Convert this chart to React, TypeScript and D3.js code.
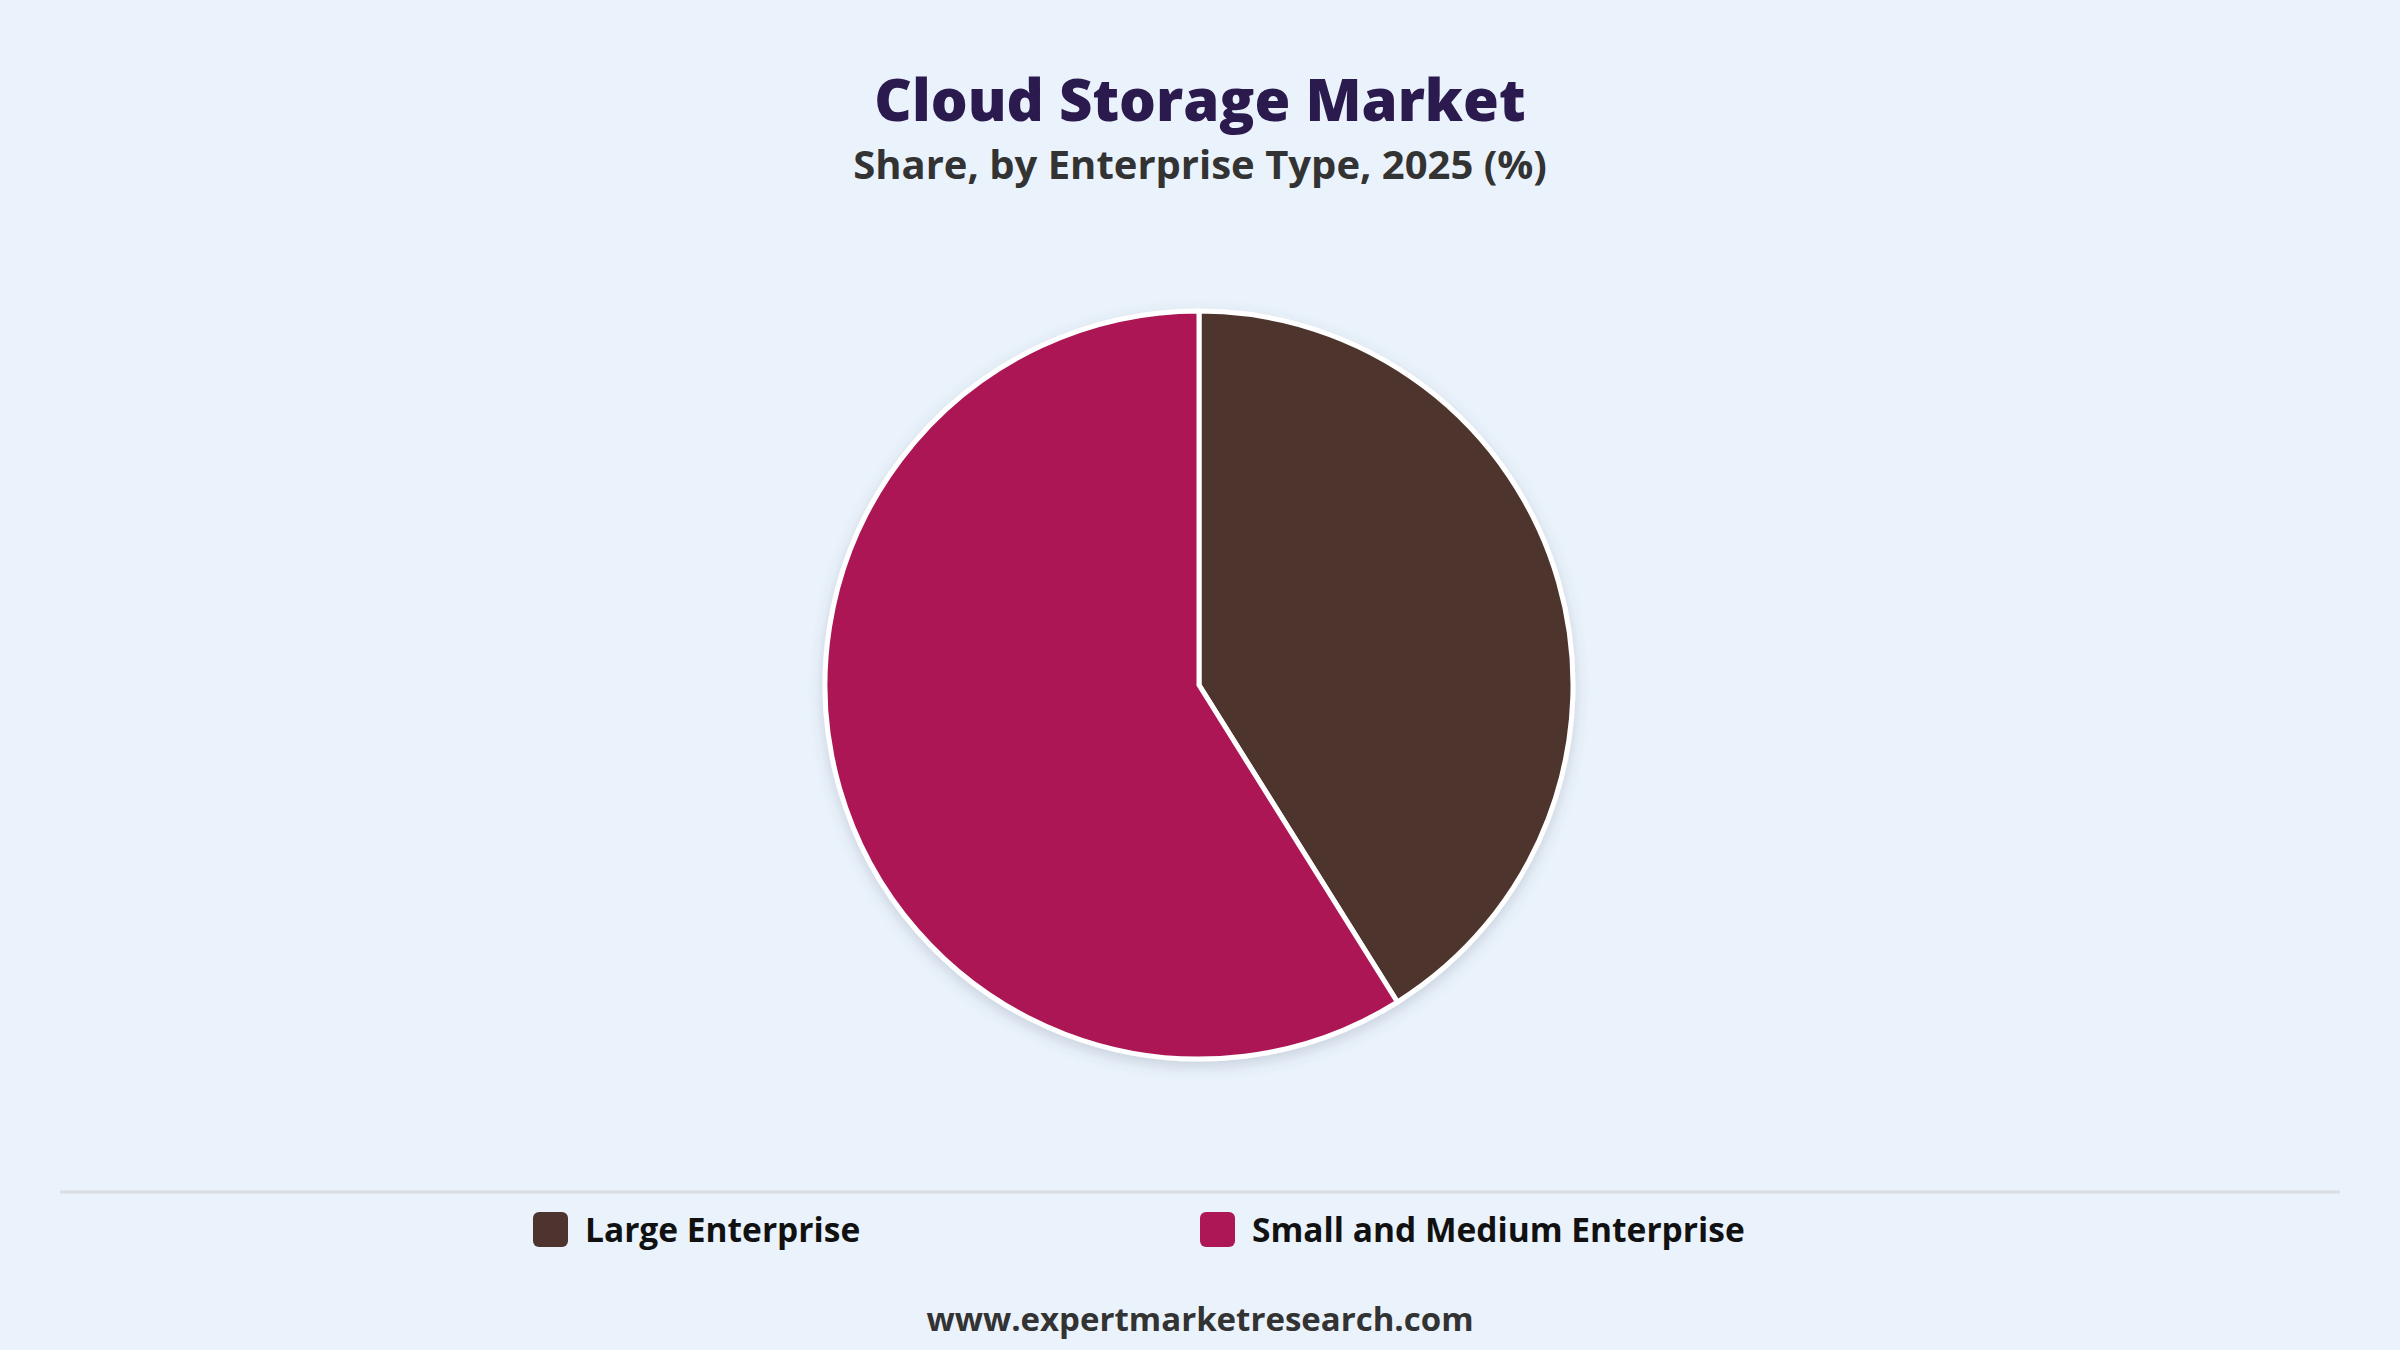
import React from "react";
import * as d3 from "d3";

const categories = ["Large Enterprise", "Small and Medium Enterprise"];
const shares = [41.1, 58.9];
const colors = ["#4E342E", "#AD1755"];

const W = 2400;
const H = 1350;
const FONT = "'Open Sans', 'Noto Sans', sans-serif";

export default function App() {
  const cx = 1199;
  const cy = 685;
  const r = 374;
  const data = categories.map((c, i) => ({ name: c, value: shares[i], color: colors[i] }));
  const pie = d3.pie<any>().sort(null).value((d: any) => d.value);
  const arcs = pie(data);
  const arc = d3.arc<any>().innerRadius(0).outerRadius(r);

  const legendX = [533, 1200];

  return (
    <svg
      width={W}
      height={H}
      style={{ position: "absolute", left: 0, top: 0, display: "block" }}
    >
      <defs>
        <filter id="sh" x="-20%" y="-20%" width="140%" height="140%">
          <feDropShadow dx="0" dy="5" stdDeviation="7" floodColor="#4a5a70" floodOpacity="0.22" />
        </filter>
      </defs>
      <rect x={0} y={0} width={W} height={H} fill="#EAF2FB" />
      <text
        x={W / 2}
        y={121}
        textAnchor="middle"
        fontFamily={FONT}
        fontWeight={800}
        fontSize={58}
        fill="#2B1A4E"
      >
        Cloud Storage Market
      </text>
      <text
        x={W / 2}
        y={179}
        textAnchor="middle"
        fontFamily={FONT}
        fontWeight={700}
        fontSize={40}
        fill="#333333"
      >
        Share, by Enterprise Type, 2025 (%)
      </text>
      <g transform={`translate(${cx},${cy})`} filter="url(#sh)">
        {arcs.map((a, i) => (
          <path key={i} d={arc(a) as string} fill={a.data.color} stroke="#ffffff" strokeWidth={5} strokeLinejoin="round" />
        ))}
      </g>
      <line x1={60} x2={2340} y1={1192} y2={1192} stroke="#DADDE2" strokeWidth={3} />
      {data.map((d, i) => (
        <g key={d.name} transform={`translate(${legendX[i]},1212)`}>
          <rect x={0} y={0} width={35} height={35} rx={6} fill={d.color} />
          <text x={52} y={30} fontFamily={FONT} fontWeight={700} fontSize={33.5} fill="#111111">
            {d.name}
          </text>
        </g>
      ))}
      <text
        x={W / 2}
        y={1331}
        textAnchor="middle"
        fontFamily={FONT}
        fontWeight={700}
        fontSize={33}
        fill="#333333"
      >
        www.expertmarketresearch.com
      </text>
    </svg>
  );
}
